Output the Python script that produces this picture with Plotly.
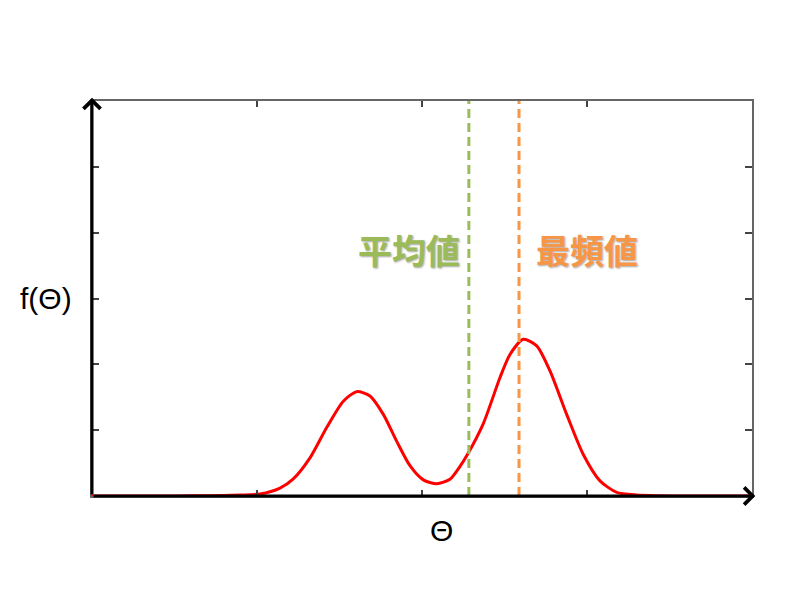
import plotly.graph_objects as go

## density curve
theta = [0.0, 1.0, 1.5, 2.0, 2.24, 2.545, 2.848, 3.05, 3.303, 3.556, 3.808, 4.011,
         4.212, 4.414, 4.617, 4.818, 5.02, 5.223, 5.424, 5.576, 5.677, 5.929, 6.182,
         6.333, 6.535, 6.738, 6.939, 7.192, 7.444, 7.697, 7.95, 8.253, 8.6, 9.0, 10.0]
density = [0.0, 0.0, 0.003, 0.008, 0.015, 0.03, 0.12, 0.26, 0.58, 1.04, 1.44, 1.585,
           1.52, 1.24, 0.83, 0.46, 0.245, 0.187, 0.255, 0.45, 0.61, 1.1, 1.8,
           2.15, 2.38, 2.28, 1.9, 1.24, 0.63, 0.23, 0.055, 0.015, 0.004, 0.0, 0.0]

mean_theta = 5.71
mode_theta = 6.47
labels = ["平均値", "最頻値"]

x_ticks = [2.5, 5.0, 7.5]
y_ticks = [1, 2, 3, 4, 5]

green = "#9bbb59"
orange = "#f79646"

fig = go.Figure()
fig.add_trace(go.Scatter(x=theta, y=density, mode="lines",
                         line=dict(color="#ff0000", width=3, shape="spline", smoothing=0.7),
                         hoverinfo="skip"))

# mean / mode markers
fig.add_shape(type="line", x0=mean_theta, x1=mean_theta, y0=0, y1=6,
              line=dict(color=green, width=3, dash="9px,5px"))
fig.add_shape(type="line", x0=mode_theta, x1=mode_theta, y0=0, y1=6,
              line=dict(color=orange, width=3, dash="9px,5px"))

shadow = "1px 1px 2px rgba(0,0,0,0.35)"
fig.add_annotation(x=mean_theta, y=3.75, text="<b>" + labels[0] + "</b>", showarrow=False,
                   xanchor="right", xshift=-7,
                   font=dict(family="Noto Sans CJK JP", size=34, color=green, shadow=shadow))
fig.add_annotation(x=mode_theta, y=3.75, text="<b>" + labels[1] + "</b>", showarrow=False,
                   xanchor="left", xshift=15,
                   font=dict(family="Noto Sans CJK JP", size=34, color=orange, shadow=shadow))

# black axes with arrow heads
fig.add_annotation(x=10.05, y=0, ax=0, ay=0, axref="x", ayref="y", text="",
                   showarrow=True, arrowhead=4, arrowsize=1.1, arrowwidth=3, arrowcolor="black")
fig.add_annotation(x=0, y=6.05, ax=0, ay=0, axref="x", ayref="y", text="",
                   showarrow=True, arrowhead=4, arrowsize=1.1, arrowwidth=3, arrowcolor="black")

# axis titles
fig.add_annotation(x=-0.112, y=0.5, xref="paper", yref="paper", text="f(Θ)", showarrow=False,
                   font=dict(family="Liberation Sans", size=30, color="black"))
fig.add_annotation(x=0.53, y=-0.135, xref="paper", yref="paper", text="Θ", showarrow=False,
                   font=dict(family="Liberation Sans", size=30, color="black"))

fig.update_xaxes(range=[0, 10], tickvals=x_ticks, showticklabels=False, ticks="inside",
                 ticklen=6, tickcolor="#444", tickwidth=1.5, showline=True, linecolor="#666",
                 linewidth=1.5, mirror="ticks", showgrid=False, zeroline=False)
fig.update_yaxes(range=[0, 6], tickvals=y_ticks, showticklabels=False, ticks="inside",
                 ticklen=7, tickcolor="#444", tickwidth=1.5, showline=True, linecolor="#666",
                 linewidth=1.5, mirror="ticks", showgrid=False, zeroline=False)

fig.update_layout(width=800, height=600, showlegend=False,
                  margin=dict(l=84, r=56, t=93, b=112),
                  paper_bgcolor="white", plot_bgcolor="white")

fig.write_html("out.html")
